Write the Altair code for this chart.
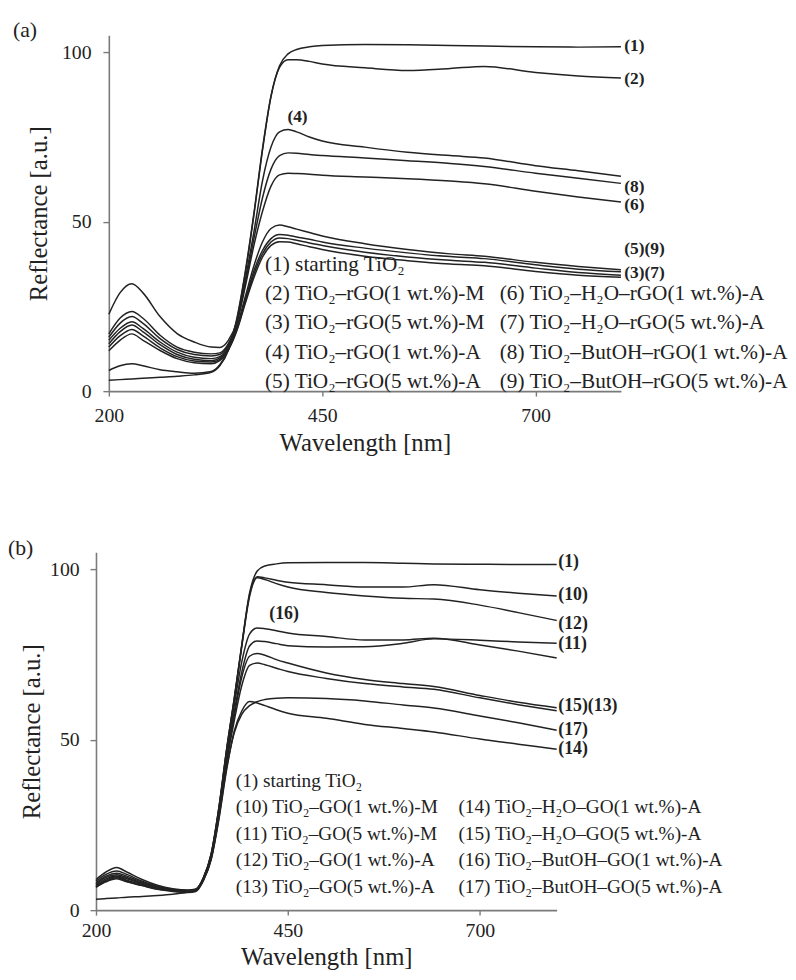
import altair as alt
import pandas as pd

FONT = "Liberation Serif"
INK = "#222222"
AXC = "#7a7a7a"

# wavelength grid [nm]
W = [200, 213, 227, 240, 260, 280, 300, 320, 330, 340, 350, 360, 370, 380, 390,
     400, 410, 420, 435, 450, 500, 550, 600, 640, 700, 750, 800]

# ---- panel (a) reflectance series ----
A1 = [3.2, 3.4, 3.6, 3.8, 4.1, 4.4, 4.8, 5.6, 7.5, 12, 21, 35, 52, 71, 87, 96, 99.5, 100.8, 101.6, 102, 102.3, 102.2, 102, 101.8, 101.6, 101.5, 101.6]
A2 = [6.1, 7.5, 8.1, 7.5, 6.3, 5.7, 5.3, 5.8, 7.8, 12.3, 21.5, 35.5, 52.5, 71.5, 87, 95.5, 97.8, 97.8, 97.3, 96.5, 95.4, 94.6, 95.2, 95.8, 94, 93, 92.4]
A3 = [13, 16.3, 18.2, 16.3, 12.8, 10.2, 8.9, 8.6, 9.4, 12.4, 18.2, 26.5, 34.5, 40.5, 44, 45.2, 45, 44.5, 43.7, 43, 41, 39.6, 38.6, 38, 36.3, 35, 34.2]
A4 = [22.7, 29, 31.7, 29, 22, 17, 14.5, 13, 12.9, 15, 20.5, 33, 47, 62, 72, 76.5, 77.2, 76.5, 75, 73.8, 72, 70.5, 69.5, 68.8, 66.5, 65, 63.4]
A5 = [15, 18.5, 20.5, 18.5, 14.5, 11.5, 10, 9.6, 10.2, 13, 19, 28, 37, 44, 48, 49, 48.5, 47.8, 46.8, 45.8, 43.5, 41.8, 40.5, 39.8, 38, 36.8, 35.8]
A6 = [15.9, 20, 22, 20, 15.5, 12.3, 10.8, 10.4, 10.8, 13.5, 20, 31, 43, 53, 60.5, 63.8, 64.3, 64.2, 64, 63.7, 63.2, 62.7, 62, 61.2, 59, 57.3, 55.8]
A7 = [11.9, 15, 16.9, 15, 12, 9.6, 8.4, 8.1, 9, 12.1, 17.8, 26, 33.5, 39.5, 43, 44.1, 44, 43.5, 42.6, 41.8, 39.8, 38.5, 37.5, 37, 35.3, 34.2, 33.6]
A8 = [16.9, 21.5, 23.5, 21.5, 16.5, 13, 11.5, 11, 11.3, 14, 20.5, 32, 45, 57, 65.5, 69.5, 70.3, 70.2, 69.8, 69.5, 68.8, 68, 67.2, 66.3, 64.3, 62.8, 61.3]
A9 = [14, 17.5, 19.5, 17.5, 13.7, 10.8, 9.4, 9, 9.8, 12.7, 18.5, 27, 35.5, 41.5, 45, 46.2, 46, 45.5, 44.8, 44, 42.2, 40.8, 39.7, 39.1, 37.3, 36, 35.2]

# ---- panel (b) reflectance series ----
B1 = [3.2, 3.4, 3.6, 3.8, 4, 4.3, 4.7, 5.3, 6, 9.5, 16.5, 30, 47, 62, 78, 93, 99.5, 101, 101.6, 101.9, 102, 102, 101.8, 101.6, 101.5, 101.4, 101.4]
B10 = [9, 11.2, 12.5, 11.2, 9, 7.3, 6.3, 5.9, 6.2, 9.6, 16.5, 30, 47, 62, 78, 92.5, 97.8, 97.5, 96.8, 96.2, 95.5, 94.8, 94.8, 95.5, 94, 93, 92.2]
B11 = [7.6, 9.6, 10.4, 9.6, 7.9, 6.6, 5.9, 5.6, 5.9, 9.3, 15.8, 28.5, 44.5, 58, 70, 77.5, 79, 78.8, 78.2, 77.6, 77.2, 77.3, 78.3, 79.6, 79.2, 78.7, 78.3]
B12 = [8.5, 10.5, 11.5, 10.5, 8.5, 7, 6.1, 5.8, 6.1, 9.5, 16.3, 29.5, 46.5, 61.5, 77.5, 92, 97.5, 97, 95.8, 94.8, 93.2, 92.2, 91.5, 91.3, 89.5, 87.3, 85]
B13 = [7, 8.8, 9.8, 8.8, 7.5, 6.4, 5.7, 5.4, 5.7, 9, 15.2, 27.5, 43, 55.5, 66, 71.8, 72.5, 72, 71, 70, 68, 66.5, 65.5, 64.8, 62.3, 60.3, 58.5]
B14 = [6.7, 8.3, 9.2, 8.3, 7.2, 6.1, 5.5, 5.2, 5.5, 8.7, 14.8, 26.5, 41, 52.5, 58.5, 61.2, 60.8, 60, 58.8, 57.8, 56.3, 54.5, 53.3, 52.3, 50.2, 48.7, 47.2]
B15 = [7.3, 9.2, 10, 9.2, 7.7, 6.5, 5.8, 5.5, 5.8, 9.2, 15.5, 28, 44, 57, 68.5, 74.5, 75.3, 74.8, 73.5, 72.5, 69.6, 67.7, 66.5, 65.6, 63, 61, 59.4]
B16 = [8, 10, 10.8, 10, 8.2, 6.8, 6, 5.7, 6, 9.4, 16, 29, 45.5, 60, 73, 81, 82.8, 82.6, 82, 81.3, 80.3, 79.3, 79.3, 79.8, 77.8, 76, 74]
B17 = [6.8, 8.5, 9.5, 8.5, 7.3, 6.2, 5.6, 5.3, 5.6, 8.8, 15, 27, 41.5, 52, 57.5, 60, 61.2, 61.8, 62.2, 62.3, 62.1, 61.4, 60.2, 59.3, 57, 55, 52.8]

# ---- curve-end labels ----
A_END_TXT = ["(1)", "(2)", "(8)", "(6)", "(5)(9)", "(3)(7)"]
A_END_Y = [101.7, 92.2, 60.3, 54.8, 41.8, 34.9]
B_END_TXT = ["(1)", "(10)", "(12)", "(11)", "(15)(13)", "(17)", "(14)"]
B_END_Y = [102, 92.5, 84, 78.2, 60, 52.8, 47.2]

# ---- legend texts ----
A_LEG_LEFT = ["(1) starting TiO₂", "(2) TiO₂–rGO(1 wt.%)-M", "(3) TiO₂–rGO(5 wt.%)-M",
              "(4) TiO₂–rGO(1 wt.%)-A", "(5) TiO₂–rGO(5 wt.%)-A"]
A_LEG_RIGHT = ["(6) TiO₂–H₂O–rGO(1 wt.%)-A", "(7) TiO₂–H₂O–rGO(5 wt.%)-A",
               "(8) TiO₂–ButOH–rGO(1 wt.%)-A", "(9) TiO₂–ButOH–rGO(5 wt.%)-A"]
B_LEG_LEFT = ["(1) starting TiO₂", "(10) TiO₂–GO(1 wt.%)-M", "(11) TiO₂–GO(5 wt.%)-M",
              "(12) TiO₂–GO(1 wt.%)-A", "(13) TiO₂–GO(5 wt.%)-A"]
B_LEG_RIGHT = ["(14) TiO₂–H₂O–GO(1 wt.%)-A", "(15) TiO₂–H₂O–GO(5 wt.%)-A",
               "(16) TiO₂–ButOH–GO(1 wt.%)-A", "(17) TiO₂–ButOH–GO(5 wt.%)-A"]


def series_df(names, arrays):
    rows = []
    for n, arr in zip(names, arrays):
        for w, r in zip(W, arr):
            rows.append({"s": n, "w": w, "r": r})
    return pd.DataFrame(rows)


def legend_df(left, right, x_left, x_right, top, step):
    rows = []
    for i, t in enumerate(left):
        rows.append({"t": t, "w": x_left, "r": top - i * step})
    for i, t in enumerate(right):
        rows.append({"t": t, "w": x_right, "r": top - (i + 1) * step})
    return pd.DataFrame(rows)


def panel(df, ends_df, leg_df, note, tag, width, height, xrange, yoff,
          end_fs, leg_fs, lab_pad_x, title_pad_x, lab_pad_y, title_pad_y, tag_xy):
    xs = alt.Scale(domain=[200, 800], range=xrange, nice=False, zero=False)
    ys = alt.Scale(domain=[0, 105], nice=False, zero=True)
    x = alt.X("w:Q", scale=xs, axis=alt.Axis(
        values=[200, 450, 700], title="Wavelength [nm]", grid=False, labelFlush=False,
        domainColor=AXC, domainWidth=1.6, tickColor=AXC, tickWidth=1.4, tickSize=5,
        labelFont=FONT, labelFontSize=20, labelColor=INK, labelPadding=lab_pad_x,
        titleFont=FONT, titleFontSize=25, titleFontWeight="normal", titleColor=INK,
        titlePadding=title_pad_x))
    y = alt.Y("r:Q", scale=ys, axis=alt.Axis(
        values=[0, 50, 100], title="Reflectance [a.u.]", grid=False, offset=yoff,
        labelFlush=False,
        domainColor=AXC, domainWidth=1.6, tickColor=AXC, tickWidth=1.4, tickSize=6,
        labelFont=FONT, labelFontSize=20, labelColor=INK, labelPadding=lab_pad_y,
        titleFont=FONT, titleFontSize=25, titleFontWeight="normal", titleColor=INK,
        titlePadding=title_pad_y))
    lines = alt.Chart(df).mark_line(color=INK, strokeWidth=1.5, interpolate="monotone").encode(
        x=x, y=y, detail="s:N")
    ends = alt.Chart(ends_df).mark_text(
        align="left", baseline="middle", font=FONT, fontSize=end_fs, fontWeight="bold",
        color=INK).encode(x="w:Q", y="r:Q", text="t:N")
    leg = alt.Chart(leg_df).mark_text(
        align="left", baseline="middle", font=FONT, fontSize=leg_fs, color=INK).encode(
        x="w:Q", y="r:Q", text="t:N")
    nt = alt.Chart(note).mark_text(
        align="center", baseline="middle", font=FONT, fontSize=end_fs, fontWeight="bold",
        color=INK).encode(x="w:Q", y="r:Q", text="t:N")
    tg = alt.Chart(pd.DataFrame({"t": [tag]})).mark_text(
        align="left", baseline="middle", font=FONT, fontSize=22, color=INK).encode(
        x=alt.value(tag_xy[0]), y=alt.value(tag_xy[1]), text="t:N")
    return alt.layer(lines, ends, leg, nt, tg).properties(width=width, height=height)


dfa = series_df(["1", "2", "3", "4", "5", "6", "7", "8", "9"],
                [A1, A2, A3, A4, A5, A6, A7, A8, A9])
dfb = series_df(["1", "10", "11", "12", "13", "14", "15", "16", "17"],
                [B1, B10, B11, B12, B13, B14, B15, B16, B17])

ends_a = pd.DataFrame({"t": A_END_TXT, "w": [804] * len(A_END_TXT), "r": A_END_Y})
ends_b = pd.DataFrame({"t": B_END_TXT, "w": [802] * len(B_END_TXT), "r": B_END_Y})
note_a = pd.DataFrame({"t": ["(4)"], "w": [421], "r": [81]})
note_b = pd.DataFrame({"t": ["(16)"], "w": [445], "r": [87]})

leg_a = legend_df(A_LEG_LEFT, A_LEG_RIGHT, 383, 658, 37.3, 8.65)
leg_b = legend_df(B_LEG_LEFT, B_LEG_RIGHT, 382, 672, 38.0, 7.8)

pa = panel(dfa, ends_a, leg_a, note_a, "(a)", 518, 360, [0, 518], 0,
           17.5, 21.5, 10, 5, 12, 10, (-97, -5))
pb = panel(dfb, ends_b, leg_b, note_b, "(b)", 453, 362, [-13, 453], 13,
           18, 19.5, 6, 4, 11, 5, (-102, -4))

chart = alt.vconcat(pa, pb, spacing=83).configure_view(stroke=None).properties(
    padding={"left": 0, "top": 6, "right": 0, "bottom": 0})

chart.save("out.html", embed_options={"renderer": "svg", "actions": False})
